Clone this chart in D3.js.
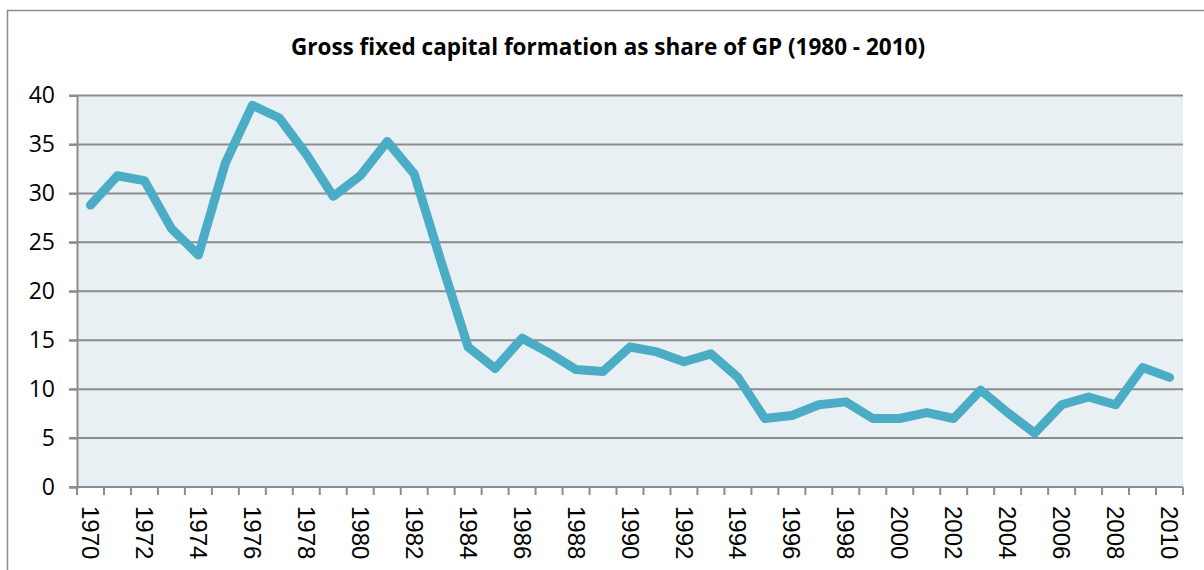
<!DOCTYPE html>
<html><head><meta charset="utf-8">
<script src="https://cdn.jsdelivr.net/npm/d3@7"></script>
<style>body{margin:0;background:#fff}svg{display:block}</style>
</head><body>
<svg id="c" width="1204" height="570"></svg>
<script>
const years = d3.range(1970, 2011).map(String);
const values = [28.8,31.8,31.3,26.4,23.7,33.1,39.0,37.7,34.0,29.7,31.8,35.3,32.0,23.0,14.3,12.1,15.2,13.7,12.0,11.8,14.3,13.8,12.8,13.6,11.2,7.0,7.3,8.4,8.7,7.0,7.0,7.6,7.0,9.9,7.6,5.5,8.4,9.2,8.4,12.2,11.2];
const yTicks = [0,5,10,15,20,25,30,35,40];
const title = "Gross fixed capital formation as share of GP (1980 - 2010)";

const svg = d3.select("#c");
const L = 77, R = 1183, T = 95.5, B = 487;
const x = d3.scaleBand().domain(years).range([L, R]);
const y = d3.scaleLinear().domain([0, 40]).range([B, T]);
const grey = "#8c8c8c";

svg.append("rect").attr("x",7.5).attr("y",10.5).attr("width",1210).attr("height",580)
  .attr("fill","#fff").attr("stroke",grey).attr("stroke-width",1.5);

svg.append("text").attr("x",608).attr("y",55).attr("text-anchor","middle")
  .attr("font-family","'Open Sans', sans-serif").attr("font-weight","bold").attr("font-size",22.5)
  .attr("fill","#000").text(title);

svg.append("rect").attr("x",L).attr("y",T).attr("width",R-L).attr("height",B-T).attr("fill","#e8f0f4");

// gridlines
svg.append("g").selectAll("line").data(yTicks.filter(d=>d>0)).join("line")
  .attr("x1",L-8).attr("x2",R).attr("y1",d=>y(d)).attr("y2",d=>y(d))
  .attr("stroke",grey).attr("stroke-width",2);

// y axis
const ya = svg.append("g").attr("transform",`translate(${L},0)`)
  .call(d3.axisLeft(y).tickValues(yTicks).tickSize(8).tickPadding(14));
ya.select(".domain").attr("stroke",grey).attr("stroke-width",2);
ya.selectAll(".tick line").attr("stroke",grey).attr("stroke-width",2);
ya.selectAll("text").attr("font-family","'Open Sans', sans-serif").attr("font-size",23).attr("fill","#000");

// x axis
const xa = svg.append("g").attr("transform",`translate(0,${B})`);
xa.append("line").attr("x1",L-8).attr("x2",R).attr("stroke",grey).attr("stroke-width",2);
const bounds = years.map(d=>x(d)).concat([R]);
xa.selectAll("line.tk").data(bounds).join("line").attr("class","tk")
  .attr("x1",d=>d).attr("x2",d=>d).attr("y1",0).attr("y2",8).attr("stroke",grey).attr("stroke-width",2);
xa.selectAll("text").data(years.filter((d,i)=>i%2===0)).join("text")
  .attr("transform",d=>`translate(${x(d)+x.bandwidth()/2},19) rotate(90)`)
  .attr("dy","0.35em").attr("text-anchor","start")
  .attr("font-family","'Liberation Sans', Arial, sans-serif").attr("font-size",24).attr("fill","#000")
  .text(d=>d);

// line
const line = d3.line().x((d,i)=>x(years[i])+x.bandwidth()/2).y(d=>y(d));
svg.append("path").datum(values).attr("d",line).attr("fill","none")
  .attr("stroke","#4bacc6").attr("stroke-width",9).attr("stroke-linejoin","round").attr("stroke-linecap","round");
</script>
</body></html>
